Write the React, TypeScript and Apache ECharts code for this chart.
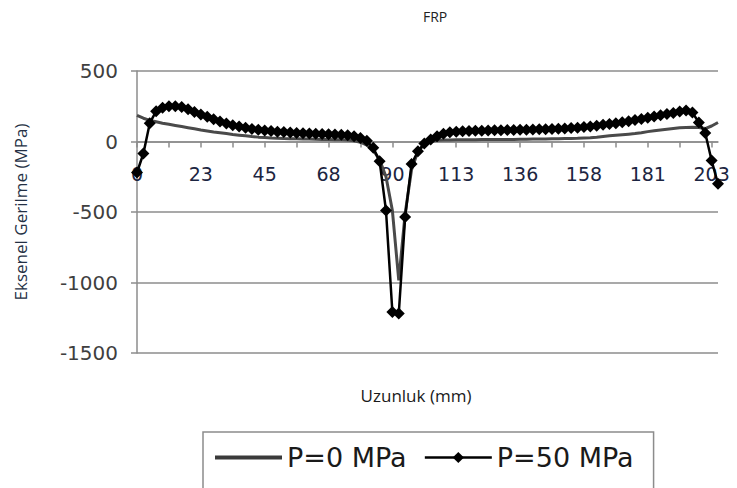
import React, { useEffect, useRef } from "react";
import * as echarts from "echarts";

const titleText = "FRP";
const xAxisTitle = "Uzunluk (mm)";
const yAxisTitle = "Eksenel Gerilme (MPa)";
const seriesNames = ["P=0 MPa", "P=50 MPa"];

// tick labels shown every 10th sample on the category axis
const xTickLabels = ["0", "23", "45", "68", "90", "113", "136", "158", "181", "203"];

// sample index (92 samples along the length)
const sampleIndex: string[] = [
  "0","1","2","3","4","5","6","7","8","9","10","11","12","13","14","15","16","17","18","19",
  "20","21","22","23","24","25","26","27","28","29","30","31","32","33","34","35","36","37","38","39",
  "40","41","42","43","44","45","46","47","48","49","50","51","52","53","54","55","56","57","58","59",
  "60","61","62","63","64","65","66","67","68","69","70","71","72","73","74","75","76","77","78","79",
  "80","81","82","83","84","85","86","87","88","89","90","91",
];

const p0Values = [
  185, 165, 150, 140, 130, 122, 114, 106, 98, 90,
  82, 75, 68, 62, 56, 50, 45, 40, 35, 31,
  28, 25, 23, 21, 20, 19, 18, 17, 16, 15,
  14, 13, 12, 10, 5, -5, -25, -60, -130, -250,
  -490, -985, -510, -200, -70, -20, 0, 8, 10, 11,
  12, 12, 13, 13, 14, 14, 14, 15, 15, 15,
  16, 16, 17, 17, 18, 19, 20, 21, 22, 23,
  25, 27, 30, 35, 40, 44, 48, 52, 56, 62,
  70, 76, 82, 87, 92, 97, 100, 101, 100, 92,
  110, 135,
];

const p50Values = [
  -220, -85, 130, 215, 240, 250, 250, 245, 228, 210,
  192, 175, 158, 142, 128, 116, 106, 97, 89, 83,
  78, 74, 70, 67, 64, 61, 59, 57, 55, 53,
  51, 49, 47, 44, 38, 25, 5, -45, -140, -490,
  -1210, -1220, -535, -160, -70, -15, 15, 38, 55, 65,
  70, 73, 75, 76, 77, 78, 79, 80, 81, 82,
  83, 84, 85, 86, 87, 88, 90, 92, 95, 98,
  102, 107, 112, 118, 124, 130, 137, 144, 152, 160,
  168, 177, 186, 195, 203, 212, 220, 205, 135, 60,
  -135, -300,
];

const Y_MIN = -1500;
const Y_MAX = 500;
const GRID_TOP = 71;
const GRID_BOTTOM = 135;
const CHART_H = 488;

export default function App() {
  const ref = useRef<HTMLDivElement>(null);

  useEffect(() => {
    if (!ref.current) return;
    const chart = echarts.init(ref.current, undefined, { renderer: "svg" });
    const gridColor = "#8c8c8c";
    const gridH = CHART_H - GRID_TOP - GRID_BOTTOM;
    const zeroFromBottom = (gridH * (0 - Y_MIN)) / (Y_MAX - Y_MIN);
    chart.setOption({
      animation: false,
      backgroundColor: "#ffffff",
      title: {
        text: titleText,
        left: 418,
        top: 4,
        textStyle: { fontFamily: "Open Sans", fontSize: 14, fontWeight: "normal", color: "#222" },
      },
      grid: { left: 137, right: 19, top: GRID_TOP, bottom: GRID_BOTTOM, containLabel: false },
      legend: {
        left: 203,
        top: 432,
        orient: "horizontal",
        data: [
          {
            name: seriesNames[0],
            itemStyle: { color: "rgba(0,0,0,0)", borderWidth: 0, opacity: 0 },
            lineStyle: { width: 4, color: "#3a3a3a" },
          },
          {
            name: seriesNames[1],
            lineStyle: { width: 2.5, color: "#000" },
          },
        ],
        itemWidth: 67,
        itemHeight: 14,
        itemGap: 17,
        padding: [12, 20, 40, 10],
        borderColor: "#8c8c8c",
        borderWidth: 1.5,
        textStyle: { fontFamily: "DejaVu Sans", fontSize: 27, color: "#1a1a1a" },
      },
      xAxis: {
        type: "category",
        data: sampleIndex,
        boundaryGap: false,
        position: "bottom",
        offset: -zeroFromBottom,
        axisLine: { onZero: false, lineStyle: { color: gridColor, width: 1.5 } },
        axisTick: { show: true, interval: 4, length: 6, lineStyle: { color: gridColor, width: 1.5 } },
        axisLabel: {
          interval: 9,
          margin: 23,
          fontFamily: "DejaVu Sans",
          fontSize: 19,
          color: "#1c2541",
          formatter: (_v: string, idx: number) => (idx % 10 === 0 ? xTickLabels[idx / 10] ?? "" : ""),
        },
        splitLine: { show: false },
      },
      yAxis: {
        type: "value",
        min: Y_MIN,
        max: Y_MAX,
        interval: 500,
        name: yAxisTitle,
        nameLocation: "middle",
        nameRotate: 90,
        nameGap: 108,
        nameTextStyle: { fontFamily: "Open Sans", fontSize: 17, color: "#243044" },
        axisLine: { show: true, lineStyle: { color: gridColor, width: 1.5 } },
        axisTick: { show: true, length: 6, lineStyle: { color: gridColor, width: 1.5 } },
        axisLabel: {
          margin: 19,
          fontFamily: "DejaVu Sans",
          fontSize: 20,
          color: "#3f3f3f",
          formatter: (v: number) => String(v),
        },
        splitLine: { show: true, lineStyle: { color: gridColor, width: 1.5 } },
      },
      graphic: [
        {
          type: "text",
          x: 416,
          y: 395,
          style: {
            text: xAxisTitle,
            fontFamily: "Open Sans",
            fontSize: 17,
            fill: "#1a1a1a",
            textAlign: "center",
            textVerticalAlign: "middle",
          },
        },
      ],
      series: [
        {
          name: seriesNames[0],
          type: "line",
          data: p0Values,
          symbol: "none",
          color: "#4a4a4a",
          lineStyle: { color: "#4a4a4a", width: 3 },
          z: 2,
        },
        {
          name: seriesNames[1],
          type: "line",
          data: p50Values,
          symbol: "diamond",
          symbolSize: 12,
          showAllSymbol: true,
          color: "#000000",
          itemStyle: { color: "#000000" },
          lineStyle: { color: "#000000", width: 2.5 },
          z: 3,
        },
      ],
    });
    return () => chart.dispose();
  }, []);

  return (
    <div
      ref={ref}
      style={{ position: "fixed", left: 0, top: 0, width: 737, height: 488, background: "#fff" }}
    />
  );
}
